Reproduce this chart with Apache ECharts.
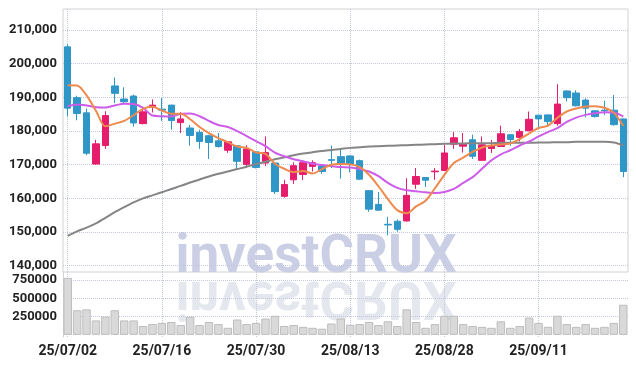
<!DOCTYPE html>
<html><head><meta charset="utf-8">
<script src="https://cdn.jsdelivr.net/npm/echarts@6/dist/echarts.min.js"></script>
<style>html,body{margin:0;padding:0;background:#fff}#c{width:636px;height:366px}</style>
</head><body><div id="c"></div>
<script>
const dates = ['25/07/02','25/07/03','25/07/04','25/07/07','25/07/08','25/07/09','25/07/10','25/07/11','25/07/14','25/07/15',
'25/07/16','25/07/17','25/07/18','25/07/21','25/07/22','25/07/23','25/07/24','25/07/25','25/07/28','25/07/29',
'25/07/30','25/07/31','25/08/01','25/08/04','25/08/05','25/08/06','25/08/07','25/08/08','25/08/11','25/08/12',
'25/08/13','25/08/14','25/08/18','25/08/19','25/08/20','25/08/21','25/08/22','25/08/25','25/08/26','25/08/27',
'25/08/28','25/08/29','25/09/01','25/09/02','25/09/03','25/09/04','25/09/05','25/09/08','25/09/09','25/09/10',
'25/09/11','25/09/12','25/09/15','25/09/16','25/09/17','25/09/18','25/09/19','25/09/22','25/09/23','25/09/24'];
const opens = [205000,189900,185400,170200,175700,193400,189500,190400,182200,187000,
186500,187700,182500,180900,179600,178600,177100,174300,175600,170100,
173800,170500,170500,160600,165500,167100,169500,169600,171500,172400,
172600,171200,162300,158200,152300,153200,153300,164200,166200,167900,
168300,176100,175500,177400,171300,174800,175400,178900,178100,180100,
184700,184800,182200,191900,191300,189200,186000,186200,186200,183600];
const closes = [186800,185200,173400,176200,184600,191200,188700,182400,185700,187700,
186200,183100,183600,178700,176900,176600,175400,176800,171000,174700,
169200,173600,162000,164100,169700,170600,170600,168000,171300,170200,
170200,165700,156800,156500,152100,150800,160900,166500,165400,168100,
173500,178000,176100,172500,175900,175700,179200,177500,179900,183500,
183600,182800,188000,189900,187500,186800,184300,186000,181900,168000];
const lows = [184300,183200,172800,170000,174700,188300,188000,181300,182000,185500,
183000,180400,179400,175700,174700,171700,175100,173500,168800,169300,
168900,169600,161300,160200,164300,165400,168000,167300,169000,165900,
167700,165500,156000,156400,149000,150100,153100,162800,163400,165500,
168200,174700,173600,171700,171200,173500,175300,175600,176900,179900,
180900,181800,181600,188800,187300,184100,184000,184800,181600,166300];
const highs = [205800,190500,186700,177400,185900,195900,193000,190800,187000,189400,
189800,187800,185600,181800,180400,178900,179400,176900,175700,175800,
174000,178400,170700,165500,170700,171300,171300,170200,175700,174600,
172800,171500,162400,161900,154500,153700,166000,169000,166300,169000,
175900,179700,179400,178900,178400,177300,181600,179000,180600,185800,
184800,184900,193900,192000,192100,189700,186100,189000,190700,183700];
const volumes = [780000,337000,350000,198000,249000,337000,198000,198000,122000,148000,
164000,177000,135000,249000,135000,177000,148000,97000,211000,148000,
164000,224000,262000,122000,135000,110000,97000,85000,156000,224000,
139000,148000,177000,135000,186000,122000,350000,177000,97000,148000,
262000,262000,148000,122000,110000,97000,186000,97000,122000,236000,
164000,110000,262000,148000,110000,148000,97000,110000,164000,413000];
const ma5 = [193600,193500,190600,186000,181400,182200,183000,184700,186600,187200,
186100,185100,185100,183500,181200,179400,177900,176700,175400,175000,
173600,173200,170300,168800,167800,168100,167400,168700,170000,170200,
170100,169300,167000,163600,159800,156500,155600,157600,159300,163000,
167000,170500,172100,173800,175100,175700,176000,176300,177600,179300,
180900,181600,183900,185800,186700,187300,187400,186900,185400,181500];
const ma20 = [187400,187900,187600,187100,187000,187600,188100,188000,186900,184600,
184400,184300,185100,185200,184400,183000,181800,181200,180000,178500,
177000,175500,173600,172500,171600,171000,170300,169900,169600,169300,
169200,168700,168000,166600,164600,163100,162400,162100,161800,161600,
161900,162800,164600,166300,168800,171300,173100,174300,175700,176900,
178400,179700,180900,182700,184000,184800,185300,185600,185500,184300];
const ma60 = [148900,150200,151300,152600,154200,155900,157400,158800,160000,160900,
161800,162800,163700,164700,165600,166500,167300,168000,168700,169400,
170200,170900,171600,172200,172800,173300,173700,174100,174400,174700,
175000,175200,175400,175500,175600,175700,175800,175900,176000,176100,
176200,176300,176300,176400,176400,176400,176500,176500,176500,176500,
176600,176600,176700,176700,176800,176800,176800,176800,176600,175800];
const priceTicks = [140000,150000,160000,170000,180000,190000,200000,210000];
const volumeTicks = [250000,500000,750000];

const FONT = 'Roboto,sans-serif';
const gridLine = {show:true, lineStyle:{type:'dotted', color:'#c3c8dc', width:1}};
const labelStyle = {color:'#222', fontFamily:FONT, fontWeight:'bold', fontSize:13};

const chart = echarts.init(document.getElementById('c'), null, {renderer:'canvas'});
chart.setOption({
  animation:false,
  backgroundColor:'#fff',
  grid:[
    {left:63, right:8, top:9, height:263, show:true, borderColor:'#d2d2d2', borderWidth:1},
    {left:63, right:8, top:272, height:65}
  ],
  xAxis:[
    {type:'category', gridIndex:0, data:dates, boundaryGap:true,
     axisLine:{show:false}, axisTick:{show:false}, axisLabel:{show:false},
     splitLine:Object.assign({interval:9, alignWithLabel:true}, gridLine)},
    {type:'category', gridIndex:1, data:dates, boundaryGap:true,
     axisLine:{show:false}, axisTick:{show:false},
     axisLabel:Object.assign({interval:9, margin:7}, labelStyle, {fontSize:14}),
     splitLine:Object.assign({interval:9, alignWithLabel:true}, gridLine)}
  ],
  yAxis:[
    {type:'value', gridIndex:0, min:138130, max:216250,
     axisLine:{show:false}, axisTick:{show:false, customValues:priceTicks},
     axisLabel:Object.assign({customValues:priceTicks, margin:6, formatter:v=>Number(v).toLocaleString('en-US')}, labelStyle),
     splitLine:gridLine},
    {type:'value', gridIndex:1, min:-29000, max:861000,
     axisLine:{show:true, lineStyle:{color:'#d2d2d2'}}, axisTick:{show:false, customValues:volumeTicks},
     axisLabel:Object.assign({customValues:volumeTicks, margin:6, formatter:v=>String(v)}, labelStyle),
     splitLine:gridLine}
  ],
  graphic:[
    {type:'group', z:1, silent:true, children:[
      {type:'text', x:316, y:259, style:{text:'investCRUX', font:'bold 53px Roboto', fill:'#cacfe5', textAlign:'center', textVerticalAlign:'middle'}},
      {type:'text', x:316, y:295, scaleY:-1, style:{text:'investCRUX', font:'bold 53px Roboto', fill:'#e5e7ef', textAlign:'center', textVerticalAlign:'middle'}}
    ]}
  ],
  series:[
    {type:'candlestick', xAxisIndex:0, yAxisIndex:0, barWidth:7,
     data:dates.map((d,i)=>[opens[i], closes[i], lows[i], highs[i]]),
     itemStyle:{color:'#e61d6c', color0:'#2f96c8', borderColor:'#e61d6c', borderColor0:'#2f96c8', borderWidth:1}},
    {type:'line', xAxisIndex:0, yAxisIndex:0, data:ma60, symbol:'none', smooth:0.3, lineStyle:{color:'#858585', width:2}, z:3},
    {type:'line', xAxisIndex:0, yAxisIndex:0, data:ma20, symbol:'none', smooth:0.3, lineStyle:{color:'#cd5ce9', width:2}, z:3},
    {type:'line', xAxisIndex:0, yAxisIndex:0, data:ma5, symbol:'none', smooth:0.3, lineStyle:{color:'#ee8a4e', width:2}, z:3},
    {type:'bar', xAxisIndex:1, yAxisIndex:1, data:volumes, barCategoryGap:'10%',
     itemStyle:{color:'#d9d9d9', borderColor:'#bdbdbd', borderWidth:1}}
  ]
});
</script></body></html>
